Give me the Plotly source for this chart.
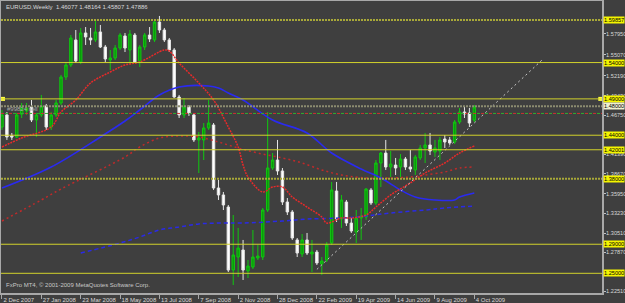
import plotly.graph_objects as go
import pandas as pd

# ---------------- data ----------------
base = pd.Timestamp("2007-12-02")
dates = pd.date_range(base, periods=97, freq="7D")

opens = [1.4513, 1.4679, 1.4390, 1.4376, 1.4690, 1.4734, 1.4789, 1.4610, 1.4679, 1.4802,
         1.4513, 1.4679, 1.4844, 1.5201, 1.5367, 1.5711, 1.5408, 1.5807, 1.5738, 1.5711,
         1.5821, 1.5614, 1.5435, 1.5463, 1.5600, 1.5766, 1.5573, 1.5779, 1.5422, 1.5614,
         1.5779, 1.5711, 1.5958, 1.5848, 1.5711, 1.5573, 1.4926, 1.4679, 1.4789, 1.4679,
         1.4335, 1.4335, 1.4500, 1.4541, 1.3674, 1.3578, 1.3412, 1.2545, 1.2724, 1.2821,
         1.2532, 1.2587, 1.2711, 1.2724, 1.3371, 1.3949, 1.4059, 1.3908, 1.3481, 1.3344,
         1.2959, 1.2766, 1.2959, 1.2766, 1.2793, 1.2628, 1.2683, 1.2917, 1.3633, 1.3247,
         1.3481, 1.3192, 1.3068, 1.3261, 1.3275, 1.3647, 1.3467, 1.4018, 1.4155, 1.3963,
         1.3990, 1.3963, 1.4073, 1.3963, 1.3922, 1.4087, 1.4224, 1.4266, 1.4169, 1.4183,
         1.4348, 1.4335, 1.4307, 1.4582, 1.4720, 1.4706, 1.46077]
highs = [1.4747, 1.4720, 1.4431, 1.4706, 1.4844, 1.4844, 1.4885, 1.4706, 1.4954, 1.4830,
         1.4720, 1.4885, 1.5229, 1.5408, 1.5779, 1.5848, 1.5876, 1.5889, 1.5876, 1.5986,
         1.5917, 1.5642, 1.5573, 1.5642, 1.5807, 1.5807, 1.5848, 1.5807, 1.5642, 1.5807,
         1.5889, 1.5986, 1.6041, 1.5876, 1.5738, 1.5600, 1.4954, 1.4913, 1.4816, 1.4706,
         1.4445, 1.4568, 1.4885, 1.4568, 1.3784, 1.3619, 1.3440, 1.3302, 1.3124, 1.2959,
         1.2683, 1.3096, 1.2890, 1.3399, 1.4720, 1.4155, 1.4335, 1.3949, 1.3536, 1.3371,
         1.2986, 1.3041, 1.3055, 1.2959, 1.2821, 1.2724, 1.2931, 1.3757, 1.3757, 1.3578,
         1.3509, 1.3275, 1.3371, 1.3399, 1.3674, 1.3674, 1.4059, 1.4169, 1.4335, 1.4183,
         1.4087, 1.4141, 1.4100, 1.4197, 1.4128, 1.4266, 1.4431, 1.4431, 1.4335, 1.4376,
         1.4403, 1.4376, 1.4610, 1.4775, 1.4802, 1.4775, 1.48164]
lows = [1.4472, 1.4335, 1.4335, 1.4362, 1.4637, 1.4679, 1.4582, 1.4376, 1.4651, 1.4472,
        1.4472, 1.4651, 1.4816, 1.5160, 1.5339, 1.5394, 1.5380, 1.5642, 1.5642, 1.5683,
        1.5600, 1.5408, 1.5298, 1.5435, 1.5573, 1.5545, 1.5408, 1.5394, 1.5339, 1.5573,
        1.5683, 1.5683, 1.5807, 1.5683, 1.5545, 1.4913, 1.4637, 1.4637, 1.4665, 1.4307,
        1.3880, 1.4059, 1.4472, 1.3647, 1.3509, 1.3371, 1.2518, 1.2339, 1.2449, 1.2408,
        1.2435, 1.2559, 1.2683, 1.2683, 1.3344, 1.3922, 1.3853, 1.3440, 1.3302, 1.2959,
        1.2724, 1.2724, 1.2752, 1.2518, 1.2614, 1.2477, 1.2655, 1.2890, 1.3206, 1.3124,
        1.3151, 1.3055, 1.2917, 1.2959, 1.3235, 1.3440, 1.3440, 1.3687, 1.3922, 1.3825,
        1.3853, 1.3825, 1.3922, 1.3894, 1.3853, 1.4059, 1.4018, 1.4128, 1.4100, 1.4059,
        1.4224, 1.4266, 1.4280, 1.4555, 1.4637, 1.4513, 1.45807]
closes = [1.4679, 1.4376, 1.4376, 1.4679, 1.4775, 1.4775, 1.4610, 1.4679, 1.4802, 1.4513,
          1.4679, 1.4844, 1.5201, 1.5367, 1.5738, 1.5422, 1.5807, 1.5752, 1.5711, 1.5821,
          1.5614, 1.5449, 1.5463, 1.5600, 1.5779, 1.5600, 1.5793, 1.5408, 1.5614, 1.5779,
          1.5724, 1.5958, 1.5848, 1.5711, 1.5573, 1.4926, 1.4679, 1.4789, 1.4706, 1.4335,
          1.4362, 1.4500, 1.4568, 1.3674, 1.3578, 1.3440, 1.2545, 1.2752, 1.2848, 1.2545,
          1.2600, 1.2724, 1.2738, 1.3371, 1.3949, 1.4059, 1.3908, 1.3481, 1.3344, 1.2986,
          1.2779, 1.2959, 1.2779, 1.2793, 1.2642, 1.2669, 1.2890, 1.3647, 1.3247, 1.3509,
          1.3192, 1.3082, 1.3261, 1.3289, 1.3660, 1.3467, 1.4018, 1.4155, 1.3963, 1.4004,
          1.3949, 1.4073, 1.3963, 1.3935, 1.4100, 1.4224, 1.4266, 1.4183, 1.4224, 1.4335,
          1.4307, 1.4293, 1.4582, 1.4720, 1.4692, 1.4568, 1.47886]

# moving averages (week index, price)
ma_fast_idx = [0, 4, 10, 12, 15, 18, 22, 25, 28, 33, 34, 36, 40, 43, 46, 48, 49, 50, 53, 55,
               57, 59, 62, 65, 66, 69, 71, 74, 76, 79, 83, 86, 90, 93, 96]
ma_fast_val = [1.4238, 1.4362, 1.4513, 1.4720, 1.4885, 1.5119, 1.5270, 1.5367, 1.5408, 1.5573,
               1.5559, 1.5394, 1.5119, 1.4885, 1.4513, 1.4238, 1.3990, 1.3825, 1.3619, 1.3688,
               1.3688, 1.3550, 1.3412, 1.3275, 1.3192, 1.3261, 1.3261, 1.3302, 1.3412, 1.3578,
               1.3743, 1.3880, 1.4018, 1.4155, 1.4252]
ma_slow_idx = [0, 8, 12, 25, 28, 32, 36, 40, 44, 48, 52, 57, 61, 65, 69, 74, 79, 83, 86, 90, 93, 96]
ma_slow_val = [1.3220, 1.3509, 1.3660, 1.4100, 1.4238, 1.4362, 1.4390, 1.4376, 1.4307, 1.4224,
               1.4155, 1.4087, 1.4018, 1.3922, 1.3853, 1.3812, 1.3812, 1.3825, 1.3853, 1.3894,
               1.3949, 1.3963]
ma_mid_idx = [0, 10, 20, 25, 28, 32, 36, 42, 44, 46, 49, 55, 62, 67, 73, 77, 81, 84, 88, 92, 93, 96]
ma_mid_val = [1.3674, 1.3963, 1.4376, 1.4596, 1.4747, 1.4954, 1.5064, 1.5078, 1.5050, 1.4981,
              1.4885, 1.4610, 1.4431, 1.4155, 1.3935, 1.3812, 1.3647, 1.3550, 1.3509, 1.3509,
              1.3550, 1.3605]
ma_long_idx = [16, 24, 28, 32, 36, 40, 44, 49, 57, 62, 69, 74, 79, 86, 90, 96]
ma_long_val = [1.2779, 1.2917, 1.3000, 1.3096, 1.3137, 1.3179, 1.3192, 1.3192, 1.3220, 1.3247,
               1.3261, 1.3289, 1.3330, 1.3371, 1.3399, 1.3426]

trend_idx = [64, 110]
trend_val = [1.2554, 1.5450]

solid_levels = [1.54000, 1.49000, 1.44000, 1.42001, 1.29000, 1.25000]
dotted_levels = [1.59857, 1.38000]
order_level = 1.48000
stop_level = 1.47000
alert_level = 1.49000

ytick_vals = [1.57950, 1.55070, 1.52190, 1.49430, 1.46750, 1.41390, 1.38670, 1.35950,
              1.33230, 1.30510, 1.27870, 1.22510]
xtick_idx = [0, 8, 16, 24, 32, 40, 48, 56, 64, 72, 80, 88, 96]
xtick_text = ["2 Dec 2007", "27 Jan 2008", "23 Mar 2008", "18 May 2008", "13 Jul 2008",
              "7 Sep 2008", "2 Nov 2008", "28 Dec 2008", "22 Feb 2009", "19 Apr 2009",
              "14 Jun 2009", "9 Aug 2009", "4 Oct 2009"]

header = "EURUSD,Weekly  1.46077 1.48164 1.45807 1.47886"
footer = "FxPro MT4, \u00a9 2001-2009 MetaQuotes Software Corp."
order_text = "#99824 sell"

# ---------------- styles ----------------
BG = "#3f3f3f"
TXT = "#d8d8d8"
FONT = "Liberation Sans"
FS = 6
FS_R = 5.6   # right price scale


def wk(i):
    return base + pd.Timedelta(weeks=i)


fig = go.Figure()

fig.add_trace(go.Candlestick(
    x=dates, open=opens, high=highs, low=lows, close=closes,
    increasing=dict(line=dict(color="#10c810", width=1), fillcolor="#0a9a0a"),
    decreasing=dict(line=dict(color="#e6e6e6", width=1), fillcolor="#ffffff"),
    whiskerwidth=0, showlegend=False, hoverinfo="skip"))

fig.add_trace(go.Scatter(x=[wk(i) for i in ma_long_idx], y=ma_long_val, mode="lines",
                         line=dict(color="#2a2ae6", width=1.5, dash="4px,3px", shape="spline"),
                         showlegend=False, hoverinfo="skip"))
fig.add_trace(go.Scatter(x=[wk(i) for i in ma_slow_idx], y=ma_slow_val, mode="lines",
                         line=dict(color="#c02a2a", width=1.5, dash="2px,3px", shape="spline"),
                         showlegend=False, hoverinfo="skip"))
fig.add_trace(go.Scatter(x=[wk(i) for i in ma_mid_idx], y=ma_mid_val, mode="lines",
                         line=dict(color="#2a2af0", width=1.6, shape="spline"),
                         showlegend=False, hoverinfo="skip"))
fig.add_trace(go.Scatter(x=[wk(i) for i in ma_fast_idx], y=ma_fast_val, mode="lines",
                         line=dict(color="#e62a2a", width=1.5, dash="2px,1px", shape="spline"),
                         showlegend=False, hoverinfo="skip"))
fig.add_trace(go.Scatter(x=[wk(i) for i in trend_idx], y=trend_val, mode="lines",
                         line=dict(color="#c8c8c8", width=1, dash="2px,3px"),
                         showlegend=False, hoverinfo="skip"))

shapes = []
for lv in solid_levels:
    shapes.append(dict(type="line", xref="paper", x0=0, x1=1, yref="y", y0=lv, y1=lv,
                       line=dict(color="#d2d22c", width=1)))
for lv in dotted_levels:
    shapes.append(dict(type="line", xref="paper", x0=0, x1=1, yref="y", y0=lv, y1=lv,
                       line=dict(color="#a8a838", width=2, dash="2px,1px")))
shapes.append(dict(type="line", xref="paper", x0=0, x1=1, yref="y", y0=order_level, y1=order_level,
                   line=dict(color="#8c8c70", width=2, dash="2px,1px")))
shapes.append(dict(type="line", xref="paper", x0=0, x1=1, yref="y", y0=stop_level, y1=stop_level,
                   line=dict(color="#d03030", width=1, dash="3px,5px")))
shapes.append(dict(type="line", xref="paper", x0=0, x1=1, yref="y", y0=stop_level, y1=stop_level,
                   line=dict(color="#30b030", width=1, dash="0px,4px,3px,1px")))

annotations = []
for lv in solid_levels + dotted_levels:
    annotations.append(dict(xref="paper", x=1, xanchor="left", xshift=1, yref="y", y=lv,
                            yanchor="middle", text=f"{lv:.5f}", showarrow=False,
                            bgcolor="#f5f500", borderpad=0,
                            font=dict(family=FONT, size=FS_R, color="#000000")))
annotations.append(dict(xref="paper", x=1, xanchor="left", xshift=1, yref="y", y=order_level,
                        yanchor="middle", text=f"{order_level:.5f}", showarrow=False,
                        bgcolor="#f0f0d0", borderpad=0,
                        font=dict(family=FONT, size=FS_R, color="#000000")))
annotations.append(dict(xref="paper", x=0, xanchor="left", xshift=3, yref="paper", y=1,
                        yanchor="top", yshift=-1, text=header, showarrow=False,
                        font=dict(family=FONT, size=FS, color=TXT)))
annotations.append(dict(xref="paper", x=0, xanchor="left", xshift=3, yref="paper", y=0,
                        yanchor="bottom", yshift=3, text=footer, showarrow=False,
                        font=dict(family=FONT, size=FS, color="#c8c8c8")))
annotations.append(dict(xref="paper", x=0, xanchor="left", xshift=4, yref="y", y=order_level,
                        yanchor="top", yshift=2, text=order_text, showarrow=False,
                        font=dict(family=FONT, size=FS, color="#a8a8a8")))

fig.add_trace(go.Scatter(x=[wk(0.2), wk(121.6)], y=[alert_level, alert_level], mode="markers",
                         marker=dict(symbol="square", size=4, color="#ffff40"),
                         showlegend=False, hoverinfo="skip"))

fig.update_layout(
    width=625, height=303,
    margin=dict(l=1, r=23, t=1, b=10),
    paper_bgcolor=BG, plot_bgcolor=BG,
    shapes=shapes, annotations=annotations,
    showlegend=False,
    font=dict(family=FONT, size=FS, color=TXT),
)
fig.update_xaxes(
    type="date", range=[wk(-0.2), wk(121.95)],
    rangeslider=dict(visible=False),
    showgrid=False, zeroline=False,
    showline=True, linecolor="#a8a8a8", linewidth=2, mirror=True,
    tickvals=[wk(i) for i in xtick_idx], ticktext=xtick_text,
    tickangle=0, automargin=False,
    ticks="outside", ticklen=4, tickcolor="#a8a8a8", tickwidth=1,
    ticklabelposition="outside right",
    tickfont=dict(family=FONT, size=FS, color=TXT),
)
fig.update_yaxes(
    range=[1.2229, 1.6247], side="right", automargin=False,
    showgrid=False, zeroline=False,
    showline=True, linecolor="#a8a8a8", linewidth=2, mirror=True,
    tickvals=ytick_vals, ticktext=[f"{v:.5f}" for v in ytick_vals],
    ticks="outside", ticklen=2, tickcolor="#c0c0c0", ticklabelstandoff=-1,
    tickfont=dict(family=FONT, size=FS_R, color=TXT),
)

fig.write_html("out.html")
